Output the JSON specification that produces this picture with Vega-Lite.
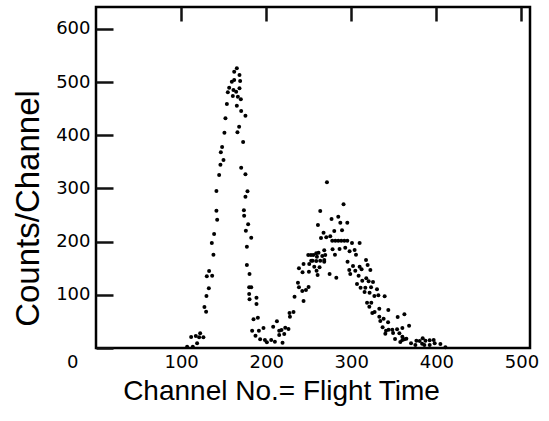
{
  "$schema": "https://vega.github.io/schema/vega-lite/v6.json",
  "width": 434,
  "height": 341,
  "autosize": {"type": "none"},
  "padding": {"left": 96, "top": 7, "right": 19, "bottom": 73},
  "background": "white",
  "config": {
    "view": {"stroke": "black", "strokeWidth": 2.5},
    "axis": {"grid": true, "gridColor": "#111111", "gridOpacity": 1, "gridWidth": 2.5, "domain": false, "ticks": false, "labelColor": "black", "titleColor": "black", "labelFont": "DejaVu Sans", "labelFontSize": 18, "titleFont": "Liberation Sans", "titleFontWeight": "normal"}
  },
  "data": {"values": [
    {"ch":107.1,"cnt":2.4},{"ch":113.8,"cnt":2.4},{"ch":118.8,"cnt":8.8},{"ch":111.8,"cnt":20.7},{"ch":117.3,"cnt":22.6},{"ch":121.2,"cnt":20.1},{"ch":122.4,"cnt":27.6},{"ch":126.2,"cnt":20.1},
    {"ch":129.4,"cnt":68.2},{"ch":127.4,"cnt":77.1},{"ch":129.8,"cnt":97.7},{"ch":132.6,"cnt":112.2},{"ch":132.9,"cnt":144.7},{"ch":130.2,"cnt":134.8},{"ch":136.5,"cnt":135.9},{"ch":138.0,"cnt":175.4},
    {"ch":136.1,"cnt":197.4},{"ch":138.8,"cnt":214.3},{"ch":142.4,"cnt":241.2},{"ch":141.5,"cnt":258.1},{"ch":141.5,"cnt":295.1},{"ch":144.7,"cnt":325.2},{"ch":146.2,"cnt":344.5},{"ch":149.8,"cnt":353.4},
    {"ch":146.7,"cnt":367.9},{"ch":148.2,"cnt":377.8},{"ch":150.9,"cnt":404.7},{"ch":152.1,"cnt":431.8},{"ch":153.8,"cnt":458.6},{"ch":154.9,"cnt":480.6},{"ch":156.5,"cnt":489.3},{"ch":159.6,"cnt":500.6},
    {"ch":160.8,"cnt":473.7},{"ch":161.5,"cnt":485.0},{"ch":162.4,"cnt":503.8},{"ch":162.4,"cnt":519.4},{"ch":164.7,"cnt":481.8},{"ch":165.5,"cnt":525.8},{"ch":166.7,"cnt":472.4},{"ch":168.6,"cnt":488.2},
    {"ch":168.6,"cnt":513.2},{"ch":169.4,"cnt":501.9},{"ch":170.2,"cnt":467.5},{"ch":165.5,"cnt":455.5},{"ch":170.6,"cnt":445.5},{"ch":175.6,"cnt":436.7},{"ch":168.2,"cnt":416.0},{"ch":166.2,"cnt":405.5},
    {"ch":172.9,"cnt":387.2},{"ch":170.6,"cnt":338.9},{"ch":175.6,"cnt":326.5},{"ch":178.0,"cnt":294.5},{"ch":175.6,"cnt":284.4},{"ch":173.8,"cnt":258.8},{"ch":174.1,"cnt":248.7},{"ch":178.8,"cnt":232.5},
    {"ch":176.1,"cnt":220.5},{"ch":182.4,"cnt":207.3},{"ch":177.3,"cnt":190.4},{"ch":177.3,"cnt":156.0},{"ch":180.4,"cnt":139.1},{"ch":180.0,"cnt":114.1},{"ch":182.4,"cnt":114.1},{"ch":180.0,"cnt":101.5},
    {"ch":180.4,"cnt":91.5},{"ch":188.6,"cnt":94.5},{"ch":188.6,"cnt":82.7},{"ch":185.1,"cnt":53.9},{"ch":190.2,"cnt":57.0},{"ch":183.5,"cnt":32.5},{"ch":191.4,"cnt":32.5},{"ch":196.8,"cnt":37.6},
    {"ch":187.4,"cnt":23.1},{"ch":192.9,"cnt":16.4},{"ch":198.5,"cnt":15.0},{"ch":200.8,"cnt":10.7},{"ch":205.9,"cnt":15.0},{"ch":210.2,"cnt":11.8},{"ch":208.2,"cnt":40.0},{"ch":212.6,"cnt":50.2},
    {"ch":215.3,"cnt":32.5},{"ch":218.0,"cnt":33.8},{"ch":215.3,"cnt":24.4},{"ch":221.2,"cnt":26.3},{"ch":222.4,"cnt":38.2},{"ch":226.2,"cnt":35.7},{"ch":219.2,"cnt":10.0},{"ch":227.9,"cnt":58.8},
    {"ch":232.1,"cnt":67.7},{"ch":227.4,"cnt":65.8},{"ch":233.3,"cnt":96.4},{"ch":243.9,"cnt":88.3},{"ch":237.3,"cnt":122.7},{"ch":238.5,"cnt":114.1},{"ch":242.4,"cnt":107.1},{"ch":246.7,"cnt":109.0},
    {"ch":249.8,"cnt":114.7},{"ch":238.5,"cnt":149.8},{"ch":242.7,"cnt":142.3},{"ch":243.9,"cnt":157.9},{"ch":250.2,"cnt":143.4},{"ch":250.6,"cnt":157.9},{"ch":252.9,"cnt":164.1},{"ch":249.4,"cnt":174.8},
    {"ch":252.6,"cnt":174.8},{"ch":255.3,"cnt":174.8},{"ch":258.8,"cnt":178.0},{"ch":254.5,"cnt":164.1},{"ch":258.8,"cnt":163.5},{"ch":256.5,"cnt":152.8},{"ch":262.7,"cnt":151.7},{"ch":259.2,"cnt":145.3},
    {"ch":260.4,"cnt":137.2},{"ch":268.2,"cnt":165.4},{"ch":274.5,"cnt":139.1},{"ch":282.4,"cnt":132.1},{"ch":271.4,"cnt":311.5},{"ch":290.9,"cnt":270.1},{"ch":263.5,"cnt":257.5},{"ch":276.8,"cnt":242.5},
    {"ch":284.7,"cnt":246.8},{"ch":287.1,"cnt":235.5},{"ch":295.3,"cnt":235.5},{"ch":260.8,"cnt":231.2},{"ch":267.4,"cnt":216.7},{"ch":280.0,"cnt":219.9},{"ch":289.1,"cnt":221.2},{"ch":264.4,"cnt":206.8},
    {"ch":270.6,"cnt":208.1},{"ch":275.3,"cnt":210.0},{"ch":277.6,"cnt":201.7},{"ch":281.2,"cnt":201.7},{"ch":284.7,"cnt":201.7},{"ch":288.2,"cnt":201.7},{"ch":291.8,"cnt":201.7},{"ch":295.3,"cnt":201.7},
    {"ch":300.8,"cnt":197.4},{"ch":309.8,"cnt":197.4},{"ch":278.0,"cnt":185.5},{"ch":286.2,"cnt":186.1},{"ch":292.9,"cnt":188.5},{"ch":298.0,"cnt":181.8},{"ch":303.9,"cnt":184.2},{"ch":268.2,"cnt":183.6},
    {"ch":261.5,"cnt":179.1},{"ch":280.8,"cnt":175.4},{"ch":305.5,"cnt":175.4},{"ch":265.9,"cnt":172.9},{"ch":269.4,"cnt":174.8},{"ch":259.6,"cnt":171.6},{"ch":268.2,"cnt":162.2},{"ch":263.5,"cnt":164.1},
    {"ch":317.3,"cnt":165.4},{"ch":295.6,"cnt":162.2},{"ch":319.2,"cnt":156.0},{"ch":302.0,"cnt":154.1},{"ch":309.8,"cnt":152.8},{"ch":312.1,"cnt":147.9},{"ch":297.6,"cnt":146.6},{"ch":304.7,"cnt":145.3},
    {"ch":322.4,"cnt":146.6},{"ch":298.8,"cnt":139.1},{"ch":308.6,"cnt":135.9},{"ch":317.6,"cnt":131.0},{"ch":312.9,"cnt":126.5},{"ch":320.4,"cnt":125.4},{"ch":325.5,"cnt":124.1},{"ch":306.7,"cnt":120.3},
    {"ch":310.9,"cnt":113.3},{"ch":316.5,"cnt":113.3},{"ch":323.2,"cnt":114.1},{"ch":315.6,"cnt":105.3},{"ch":321.5,"cnt":103.9},{"ch":330.2,"cnt":110.3},{"ch":327.1,"cnt":97.7},{"ch":331.8,"cnt":99.1},
    {"ch":339.2,"cnt":97.2},{"ch":318.5,"cnt":85.2},{"ch":323.5,"cnt":85.2},{"ch":321.2,"cnt":77.6},{"ch":332.9,"cnt":73.9},{"ch":327.4,"cnt":67.7},{"ch":324.7,"cnt":65.8},{"ch":343.5,"cnt":71.4},
    {"ch":332.9,"cnt":58.8},{"ch":338.0,"cnt":55.1},{"ch":334.1,"cnt":50.8},{"ch":343.2,"cnt":48.3},{"ch":354.5,"cnt":58.3},{"ch":362.4,"cnt":63.3},{"ch":336.8,"cnt":38.9},{"ch":340.8,"cnt":32.5},
    {"ch":343.9,"cnt":34.4},{"ch":348.2,"cnt":34.4},{"ch":353.8,"cnt":35.2},{"ch":360.0,"cnt":37.6},{"ch":367.9,"cnt":41.9},{"ch":340.0,"cnt":26.9},{"ch":349.1,"cnt":28.2},{"ch":356.5,"cnt":27.6},
    {"ch":351.4,"cnt":16.9},{"ch":360.0,"cnt":15.0},{"ch":357.6,"cnt":11.3},{"ch":364.7,"cnt":17.5},{"ch":370.2,"cnt":8.8},{"ch":376.5,"cnt":13.7},{"ch":380.4,"cnt":13.2},{"ch":383.9,"cnt":18.2},
    {"ch":387.1,"cnt":13.7},{"ch":392.1,"cnt":14.5},{"ch":396.8,"cnt":15.0},{"ch":375.3,"cnt":5.6},{"ch":383.2,"cnt":8.1},{"ch":385.9,"cnt":5.6},{"ch":392.1,"cnt":5.6},{"ch":398.0,"cnt":8.8},
    {"ch":404.7,"cnt":7.5},{"ch":410.6,"cnt":1.3},{"ch":360.0,"cnt":21.2},{"ch":362.4,"cnt":16.4}
  ]},
  "mark": {"type": "circle", "size": 16, "color": "black", "opacity": 1},
  "encoding": {
    "x": {
      "field": "ch", "type": "quantitative",
      "scale": {"domain": [0, 510], "nice": false, "zero": false},
      "axis": {
        "values": [100, 200, 300, 400, 500],
        "gridDash": [14, 2000],
        "labelPadding": 5,
        "title": "Channel No.= Flight Time",
        "titleFontSize": 28,
        "titleX": 185,
        "titleY": 51,
        "titleBaseline": "alphabetic",
        "titleAnchor": "middle",
        "titleAlign": "center"
      }
    },
    "y": {
      "field": "cnt", "type": "quantitative",
      "scale": {"domain": [0, 641], "nice": false},
      "axis": {
        "values": [0, 100, 200, 300, 400, 500, 600],
        "gridDash": [17, 2000],
        "labelPadding": {"condition": {"test": "datum.value === 0", "value": 18}, "value": 6},
        "labelOffset": {"condition": {"test": "datum.value === 0", "value": 14}, "value": 0},
        "title": "Counts/Channel",
        "titleFontSize": 33,
        "titleAngle": -90,
        "titleX": -68,
        "titleY": 201,
        "titleAlign": "center",
        "titleBaseline": "middle"
      }
    }
  }
}
